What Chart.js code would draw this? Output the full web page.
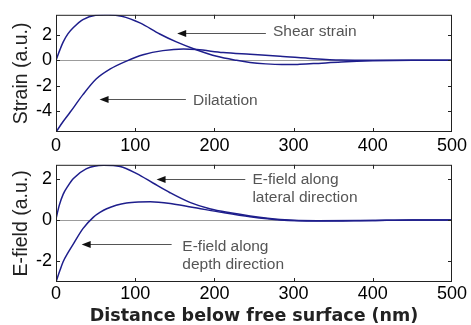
<!DOCTYPE html>
<html>
<head>
<meta charset="utf-8">
<script src="https://cdn.jsdelivr.net/npm/chart.js@4"></script>
<style>
  html, body { margin: 0; padding: 0; background: #fff; }
  #wrap { position: relative; width: 471px; height: 325px; overflow: hidden; }
  #wrap canvas { position: absolute; left: 0; }
  #strainChart { top: 0; }
  #efieldChart { top: 150px; }
</style>
</head>
<body>
<div id="wrap">
  <canvas id="strainChart" width="471" height="158"></canvas>
  <canvas id="efieldChart" width="471" height="175"></canvas>
</div>
<script>
// distance below free surface (nm), shared by both panels
const X_TICKS = [0, 100, 200, 300, 400, 500];

// upper panel - strain
const STRAIN_Y_TICKS = [-4, -2, 0, 2];
const SHEAR_X = [0, 5, 9, 15, 22, 34, 50, 66, 83, 106, 131, 152, 178, 203, 228, 245, 265, 285, 305, 325, 360, 400, 450, 500];
const SHEAR_Y = [0, 0.85, 1.45, 2.1, 2.6, 3.23, 3.58, 3.62, 3.5, 2.97, 2.09, 1.46, 0.82, 0.32, 0.0, -0.17, -0.28, -0.33, -0.32, -0.26, -0.13, -0.04, 0, 0];
const DIL_X = [0, 9, 18, 34, 51, 68, 89, 110, 135, 161, 178, 211, 245, 283, 325, 360, 400, 450, 500];
const DIL_Y = [-5.68, -4.85, -4.1, -2.72, -1.46, -0.7, -0.06, 0.44, 0.77, 0.9, 0.85, 0.62, 0.48, 0.33, 0.13, 0.02, 0, 0, 0];

// lower panel - E-field
const EFIELD_Y_TICKS = [-2, 0, 2];
const LAT_X = [0, 4, 9, 15, 22, 38, 60, 81, 102, 123, 144, 169, 194, 220, 245, 283, 330, 400, 450, 500];
const LAT_Y = [0.05, 0.7, 1.25, 1.65, 2.02, 2.49, 2.67, 2.61, 2.26, 1.79, 1.33, 0.86, 0.55, 0.35, 0.2, 0.03, -0.04, -0.02, 0, 0];
const DEPTH_X = [0, 5, 9, 15, 22, 34, 47, 56, 64, 76, 89, 104, 119, 148, 178, 211, 245, 283, 330, 400, 450, 500];
const DEPTH_Y = [-3.02, -2.45, -2.03, -1.6, -1.16, -0.42, 0.13, 0.38, 0.55, 0.72, 0.83, 0.88, 0.89, 0.78, 0.58, 0.36, 0.16, 0.0, -0.05, -0.02, 0, 0];

const LINE_COLOR = '#1e1e8c';
const FONT = '"Liberation Sans", Arial, sans-serif';

Chart.defaults.font.family = FONT;
Chart.defaults.color = '#000';

const toPoints = (xs, ys) => xs.map((x, i) => ({ x, y: ys[i] }));

// matlab style box with ticks pointing inward on all four sides
const boxPlugin = {
  id: 'matlabBox',
  afterDraw(chart) {
    const { ctx, chartArea: a, scales } = chart;
    const len = 4;
    ctx.save();
    ctx.strokeStyle = '#222';
    ctx.lineWidth = 1;
    ctx.strokeRect(a.left + 0.5, a.top + 0.5, a.right - a.left - 1, a.bottom - a.top - 1);
    ctx.beginPath();
    scales.x.ticks.forEach(t => {
      const px = Math.round(scales.x.getPixelForValue(t.value)) + 0.5;
      if (px <= a.left + 1 || px >= a.right - 1) return;
      ctx.moveTo(px, a.top); ctx.lineTo(px, a.top + len);
      ctx.moveTo(px, a.bottom); ctx.lineTo(px, a.bottom - len);
    });
    scales.y.ticks.forEach(t => {
      const py = Math.round(scales.y.getPixelForValue(t.value)) + 0.5;
      if (py <= a.top + 1 || py >= a.bottom - 1) return;
      ctx.moveTo(a.left, py); ctx.lineTo(a.left + len, py);
      ctx.moveTo(a.right, py); ctx.lineTo(a.right - len, py);
    });
    ctx.stroke();
    ctx.restore();
  }
};

// text labels with an arrow pointing left at a curve
function notesPlugin(notes) {
  return {
    id: 'arrowNotes',
    afterDatasetsDraw(chart) {
      const { ctx, scales: { x, y } } = chart;
      ctx.save();
      notes.forEach(n => {
        const ay = Math.round(y.getPixelForValue(n.arrowY)) + 0.5;
        const x0 = x.getPixelForValue(n.fromX);
        const x1 = x.getPixelForValue(n.toX);
        ctx.strokeStyle = '#555';
        ctx.lineWidth = 1;
        ctx.beginPath();
        ctx.moveTo(x0, ay);
        ctx.lineTo(x1 + 8, ay);
        ctx.stroke();
        ctx.fillStyle = '#111';
        ctx.beginPath();
        ctx.moveTo(x1, ay);
        ctx.lineTo(x1 + 9, ay - 3.5);
        ctx.lineTo(x1 + 9, ay + 3.5);
        ctx.closePath();
        ctx.fill();

        ctx.fillStyle = '#555';
        ctx.font = '15.5px ' + FONT;
        ctx.textBaseline = 'middle';
        const tx = x.getPixelForValue(n.textX);
        const ty = y.getPixelForValue(n.textY);
        n.lines.forEach((line, i) => ctx.fillText(line, tx, ty + i * 17.5));
      });
      ctx.restore();
    }
  };
}

function makePanel(id, cfg) {
  const ctx = document.getElementById(id).getContext('2d');
  return new Chart(ctx, {
    type: 'line',
    data: {
      datasets: cfg.series.map(s => ({
        data: s,
        borderColor: LINE_COLOR,
        borderWidth: 1.5,
        pointRadius: 0,
        fill: false,
        cubicInterpolationMode: 'monotone'
      }))
    },
    options: {
      responsive: false,
      animation: false,
      events: [],
      layout: { padding: { left: 0, right: 19, top: cfg.top, bottom: 0 } },
      plugins: { legend: { display: false }, tooltip: { enabled: false } },
      scales: {
        x: {
          type: 'linear',
          min: 0,
          max: 500,
          afterBuildTicks: s => { s.ticks = X_TICKS.map(v => ({ value: v })); },
          afterFit: s => { s.height = cfg.xHeight; },
          grid: { display: false, drawTicks: false },
          border: { display: false },
          ticks: { font: { size: 18 }, padding: cfg.xPad, maxRotation: 0, color: '#000' },
          title: cfg.xTitle ? {
            display: true,
            text: cfg.xTitle,
            color: '#222',
            font: { family: '"DejaVu Sans", sans-serif', size: 17.5, weight: 'bold', lineHeight: 1 },
            padding: { top: 0, bottom: 0 }
          } : { display: false }
        },
        y: {
          min: cfg.yMin,
          max: cfg.yMax,
          afterBuildTicks: s => { s.ticks = cfg.yTicks.map(v => ({ value: v })); },
          afterFit: s => { s.width = 56; },
          grid: {
            drawTicks: false,
            lineWidth: 1,
            color: c => (c.tick && c.tick.value === 0) ? '#9c9c9c' : 'rgba(0,0,0,0)'
          },
          border: { display: false },
          ticks: { font: { size: 18 }, padding: 4, color: '#000' },
          title: {
            display: true,
            text: cfg.yTitle,
            color: '#222',
            font: { size: 19.5, lineHeight: 1 },
            padding: { top: 12, bottom: 0 }
          }
        }
      }
    },
    plugins: [boxPlugin, notesPlugin(cfg.notes)]
  });
}

makePanel('strainChart', {
  top: 10,
  xHeight: 26,
  xPad: 3,
  yMin: -5.68,
  yMax: 3.61,
  yTicks: STRAIN_Y_TICKS,
  yTitle: 'Strain (a.u.)',
  series: [toPoints(SHEAR_X, SHEAR_Y), toPoints(DIL_X, DIL_Y)],
  notes: [
    { lines: ['Shear strain'], textX: 274, textY: 2.24, fromX: 265, toX: 153, arrowY: 2.16 },
    { lines: ['Dilatation'], textX: 173, textY: -3.23, fromX: 164, toX: 55, arrowY: -3.1 }
  ]
});

makePanel('efieldChart', {
  top: 9,
  xHeight: 43,
  xPad: 1,
  yMin: -3.02,
  yMax: 2.69,
  yTicks: EFIELD_Y_TICKS,
  yTitle: 'E-field (a.u.)',
  xTitle: 'Distance below free surface (nm)',
  series: [toPoints(LAT_X, LAT_Y), toPoints(DEPTH_X, DEPTH_Y)],
  notes: [
    { lines: ['E-field along', 'lateral direction'], textX: 248, textY: 1.94, fromX: 239, toX: 127, arrowY: 2.02 },
    { lines: ['E-field along', 'depth direction'], textX: 159.5, textY: -1.31, fromX: 146, toX: 32.4, arrowY: -1.16 }
  ]
});
</script>
</body>
</html>
